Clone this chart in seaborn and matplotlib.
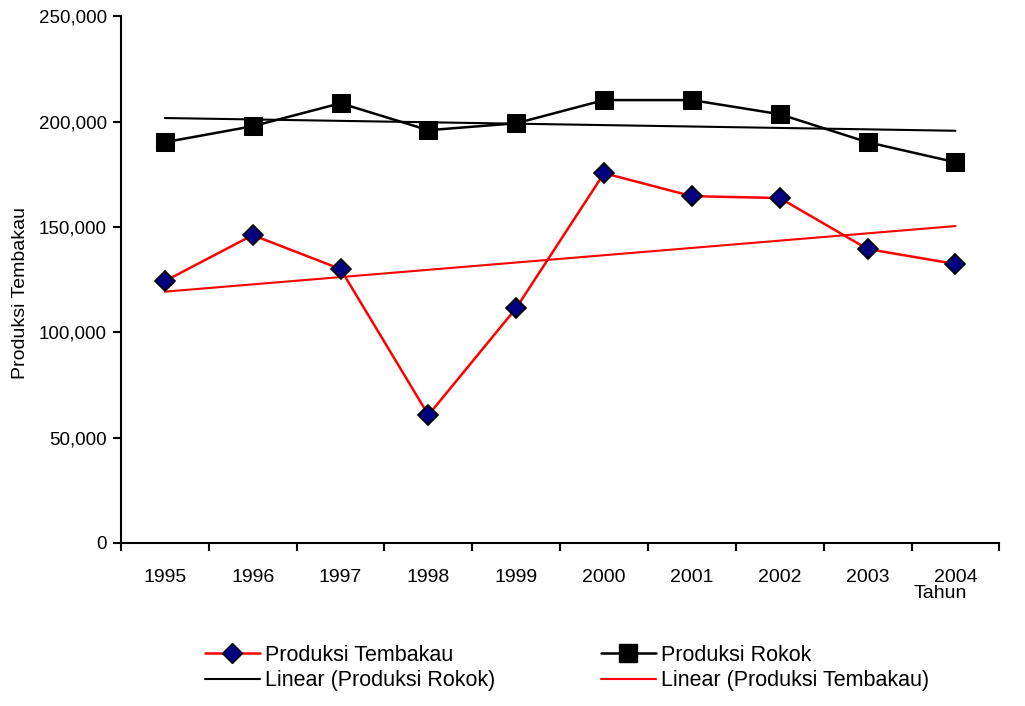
import numpy as np
import pandas as pd
import matplotlib
matplotlib.use("Agg")
import matplotlib.pyplot as plt
from matplotlib.ticker import FuncFormatter, FixedLocator
from matplotlib.lines import Line2D
import seaborn as sns

years = [1995, 1996, 1997, 1998, 1999, 2000, 2001, 2002, 2003, 2004]
produksi_tembakau = [124300, 146100, 130000, 60700, 111500, 175500, 164600, 163700, 139500, 132400]
produksi_rokok = [190200, 197800, 208700, 195900, 199200, 210200, 210200, 203500, 190200, 180700]
y_ticks = [0, 50000, 100000, 150000, 200000, 250000]

sns.set_theme(style="white")
plt.rcParams["font.family"] = ["Liberation Sans", "DejaVu Sans"]
plt.rcParams["text.color"] = "black"
plt.rcParams["axes.labelcolor"] = "black"
plt.rcParams["xtick.color"] = "black"
plt.rcParams["ytick.color"] = "black"

df = pd.DataFrame({"Tahun": years,
                   "Tembakau": produksi_tembakau,
                   "Rokok": produksi_rokok})

# least-squares trend lines for both series
x = np.array(years, dtype=float)
df["TrendRokok"] = np.polyval(np.polyfit(x, df["Rokok"], 1), x)
df["TrendTembakau"] = np.polyval(np.polyfit(x, df["Tembakau"], 1), x)

fig = plt.figure(figsize=(10.25, 7.06), dpi=100)
ax = fig.add_axes([0.118, 0.231, 0.857, 0.746])

sns.lineplot(data=df, x="Tahun", y="TrendRokok", ax=ax, color="black", lw=1.5, zorder=2)
sns.lineplot(data=df, x="Tahun", y="TrendTembakau", ax=ax, color="#ff0000", lw=1.5, zorder=2)
sns.lineplot(data=df, x="Tahun", y="Rokok", ax=ax, color="black", lw=1.8,
             marker="s", markersize=12.5, markerfacecolor="black",
             markeredgecolor="black", zorder=3)
sns.lineplot(data=df, x="Tahun", y="Tembakau", ax=ax, color="#ff0000", lw=1.8,
             marker="D", markersize=10.5, markerfacecolor="#000080",
             markeredgecolor="black", markeredgewidth=1.2, zorder=3)

ax.set_xlim(years[0] - 0.5, years[-1] + 0.5)
ax.set_ylim(0, 250000)
ax.yaxis.set_major_locator(FixedLocator(y_ticks))
ax.yaxis.set_major_formatter(FuncFormatter(lambda v, p: f"{int(v):,}"))

# category ticks sit on the bin edges, labels in the middle
edges = [y - 0.5 for y in years] + [years[-1] + 0.5]
ax.set_xticks(edges)
ax.set_xticklabels([])
ax.set_xticks(years, minor=True)
ax.set_xticklabels([str(y) for y in years], minor=True, fontsize=14)
ax.tick_params(axis="x", which="major", direction="out", length=6, width=1.5, color="black")
ax.tick_params(axis="x", which="minor", length=0, pad=19)
ax.tick_params(axis="y", direction="out", length=6, width=1.5, color="black",
               labelsize=13.5, pad=4)
ax.tick_params(bottom=True, left=True)

for side in ("top", "right"):
    ax.spines[side].set_visible(False)
for side in ("left", "bottom"):
    ax.spines[side].set_color("black")
    ax.spines[side].set_linewidth(1.5)

ax.set_xlabel("")
ax.set_ylabel("Produksi Tembakau", fontsize=14, color="black")
ax.yaxis.set_label_coords(-0.105, 0.475)
fig.text(0.917, 0.16, "Tahun", fontsize=14, ha="center", va="center")

handles = [
    Line2D([], [], color="#ff0000", lw=1.8, marker="D", markersize=10.5,
           markerfacecolor="#000080", markeredgecolor="black"),
    Line2D([], [], color="black", lw=1.5),
    Line2D([], [], color="black", lw=1.8, marker="s", markersize=12.5,
           markerfacecolor="black"),
    Line2D([], [], color="#ff0000", lw=1.5),
]
labels = ["Produksi Tembakau", "Linear (Produksi Rokok)",
          "Produksi Rokok", "Linear (Produksi Tembakau)"]
fig.legend(handles, labels, ncol=2, loc="center", bbox_to_anchor=(0.553, 0.054),
           frameon=False, fontsize=15.5, handlelength=2.55, handletextpad=0.25,
           columnspacing=4.9, labelspacing=0.22, borderaxespad=0)

fig.savefig("out.png", dpi=100)
